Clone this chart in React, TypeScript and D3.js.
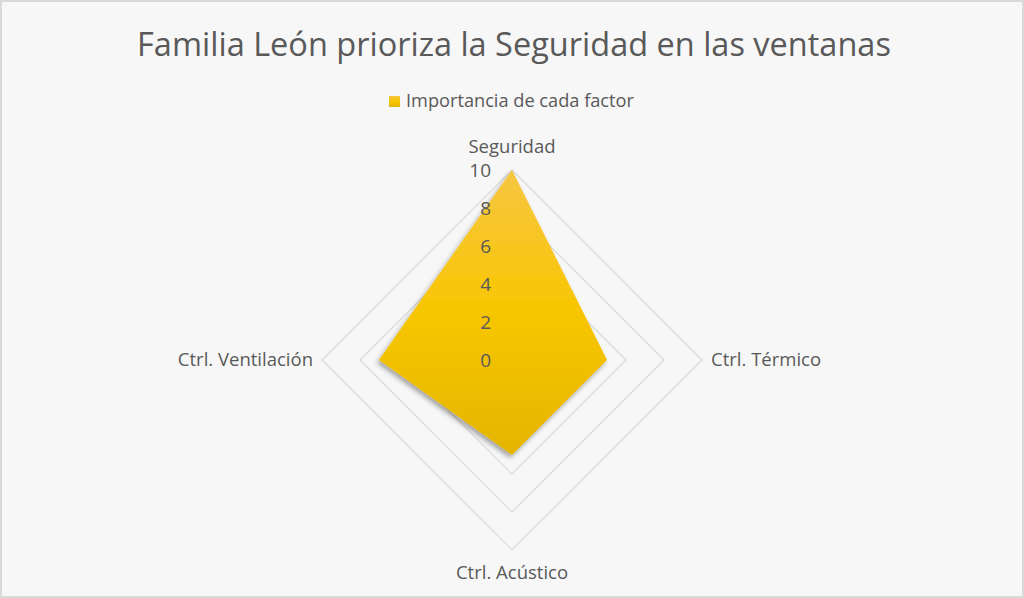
import React, {FC, useEffect, useRef} from 'react';
import * as d3 from 'd3';

const categories = ['Seguridad', 'Ctrl. Térmico', 'Ctrl. Acústico', 'Ctrl. Ventilación'];
const values = [10, 5, 5, 7];
const ticks = [0, 2, 4, 6, 8, 10];
const seriesName = 'Importancia de cada factor';
const title = 'Familia León prioriza la Seguridad en las ventanas';

const W = 1024;
const H = 598;

const Radar: FC = () => {
  const ref = useRef<SVGSVGElement>(null);

  useEffect(() => {
    document.body.style.margin = '0';
    const root = d3.select(ref.current);
    root.selectAll('*').remove();
    const font = '"Open Sans", sans-serif';
    const cx = 512;
    const cy = 360;
    const r = d3.scaleLinear().domain([0, 10]).range([0, 190]);
    const angle = (i: number) => (i / categories.length) * Math.PI * 2;

    const defs = root.append('defs');
    const grad = defs
      .append('linearGradient')
      .attr('id', 'gold')
      .attr('x1', 0)
      .attr('y1', 0)
      .attr('x2', 0)
      .attr('y2', 1);
    grad.append('stop').attr('offset', '0%').attr('stop-color', '#F6C642');
    grad.append('stop').attr('offset', '50%').attr('stop-color', '#F8C600');
    grad.append('stop').attr('offset', '100%').attr('stop-color', '#E3B500');
    defs
      .append('filter')
      .attr('id', 'shadow')
      .attr('x', '-20%')
      .attr('y', '-20%')
      .attr('width', '140%')
      .attr('height', '140%')
      .append('feDropShadow')
      .attr('dx', -2)
      .attr('dy', 3)
      .attr('stdDeviation', 2.5)
      .attr('flood-color', '#000')
      .attr('flood-opacity', 0.35);

    // background
    root
      .append('rect')
      .attr('x', 1)
      .attr('y', 1)
      .attr('width', W - 2)
      .attr('height', H - 2)
      .attr('fill', '#F7F7F7')
      .attr('stroke', '#D9D9D9')
      .attr('stroke-width', 2);

    // title
    root
      .append('text')
      .attr('x', W / 2 + 2)
      .attr('y', 56)
      .attr('text-anchor', 'middle')
      .attr('font-family', font)
      .attr('font-size', 32.5)
      .attr('fill', '#595959')
      .text(title);

    // legend
    root
      .append('rect')
      .attr('x', 389)
      .attr('y', 96)
      .attr('width', 11)
      .attr('height', 11)
      .attr('fill', 'url(#gold)');
    root
      .append('text')
      .attr('x', 406)
      .attr('y', 107)
      .attr('font-family', font)
      .attr('font-size', 18.2)
      .attr('fill', '#595959')
      .text(seriesName);

    const g = root.append('g').attr('transform', `translate(${cx}, ${cy})`);

    // grid
    const radial = d3
      .lineRadial<number>()
      .angle((_, i) => angle(i))
      .radius(d => r(d))
      .curve(d3.curveLinearClosed);
    g.append('g')
      .selectAll('path')
      .data(ticks.filter(t => t > 0))
      .enter()
      .append('path')
      .attr('d', t => radial(categories.map(() => t)))
      .attr('fill', 'none')
      .attr('stroke', '#D9D9D9')
      .attr('stroke-width', 1.2);

    // series
    g.append('path')
      .attr('d', radial(values))
      .attr('fill', 'url(#gold)')
      .attr('filter', 'url(#shadow)');

    // tick labels
    g.append('g')
      .selectAll('text')
      .data(ticks)
      .enter()
      .append('text')
      .attr('x', -21)
      .attr('y', t => -r(t))
      .attr('dy', '0.38em')
      .attr('text-anchor', 'end')
      .attr('font-family', font)
      .attr('font-size', 19)
      .attr('fill', '#595959')
      .text(t => String(t));

    // category labels
    g.append('g')
      .selectAll('text')
      .data(categories)
      .enter()
      .append('text')
      .attr('x', (_, i) => Math.sin(angle(i)) * (r(10) + 9))
      .attr('y', (_, i) => -Math.cos(angle(i)) * (r(10) + 9))
      .attr('dy', (_, i) => {
        const c = Math.cos(angle(i));
        return c > 0.5 ? '-0.45em' : c < -0.5 ? '1.1em' : '0.35em';
      })
      .attr('text-anchor', (_, i) => {
        const s = Math.sin(angle(i));
        return s > 0.5 ? 'start' : s < -0.5 ? 'end' : 'middle';
      })
      .attr('font-family', font)
      .attr('font-size', 18.5)
      .attr('fill', '#595959')
      .text(d => d);
  }, []);

  return <svg ref={ref} width={W} height={H} style={{display: 'block'}} />;
};

const App: FC = () => <Radar />;

export default App;
